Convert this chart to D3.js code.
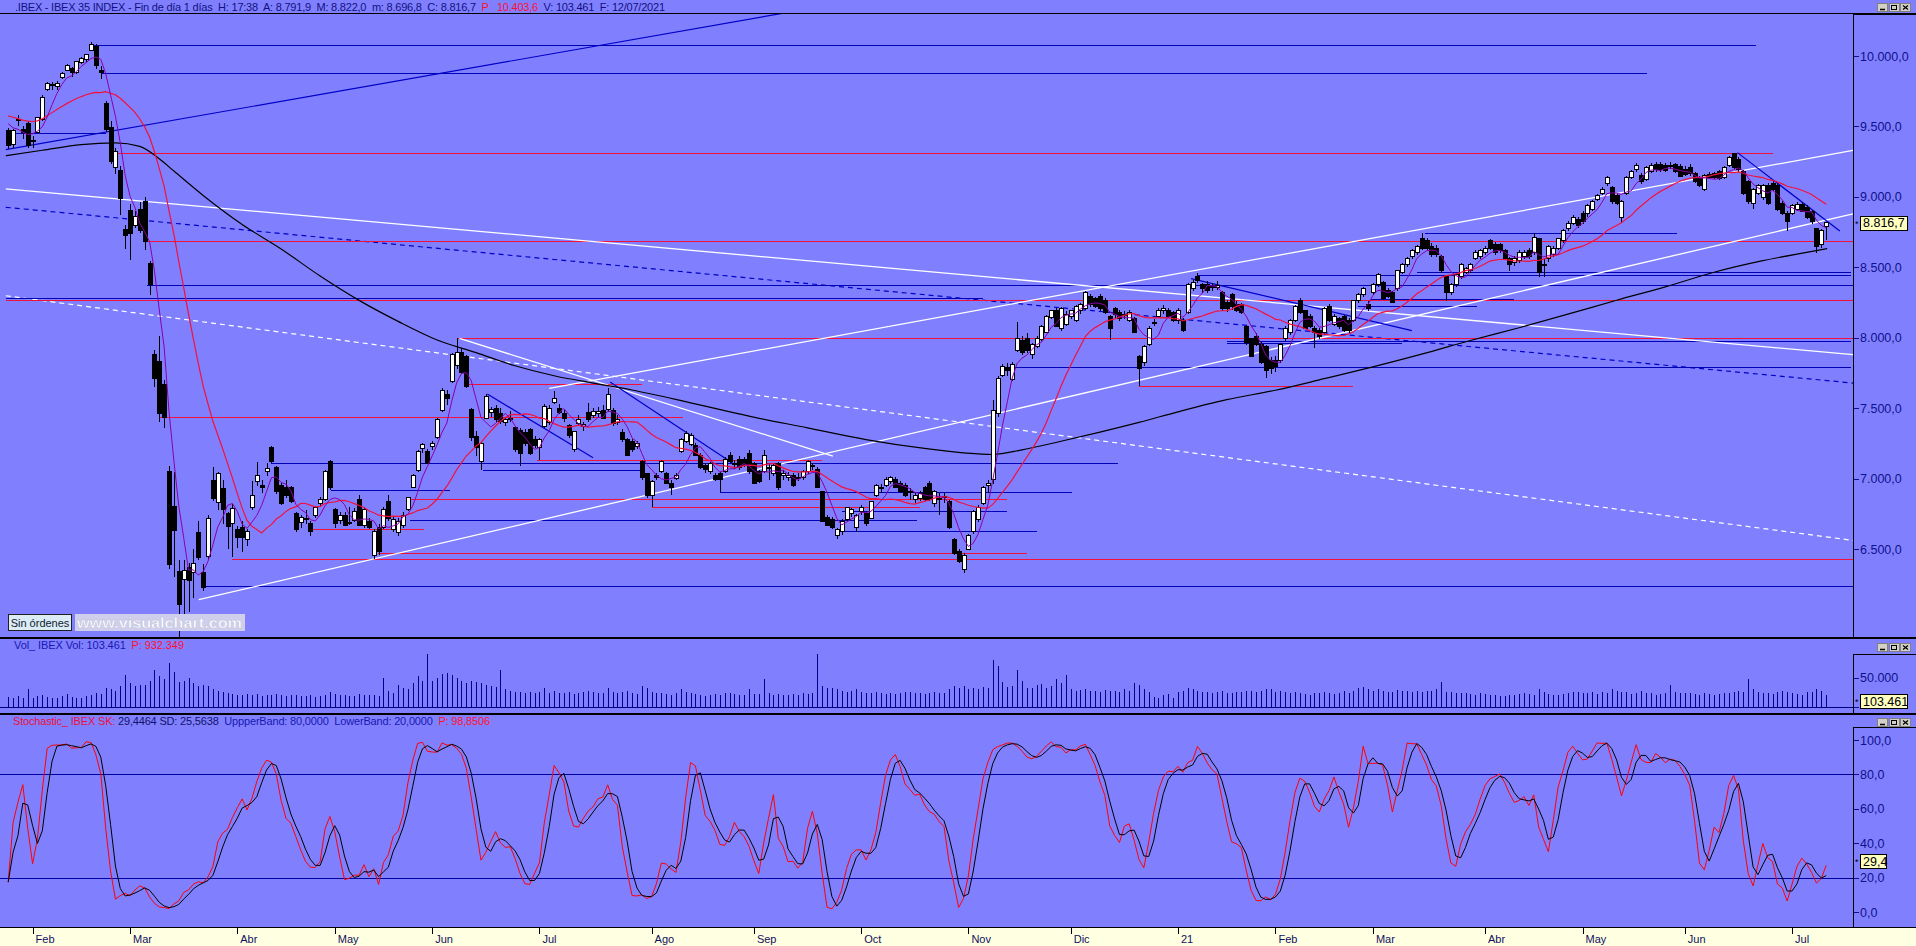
<!DOCTYPE html>
<html><head><meta charset="utf-8">
<script src="https://cdn.jsdelivr.net/npm/d3@7"></script>
<style>
html,body{margin:0;padding:0;background:#8080ff;overflow:hidden}
svg{display:block}
text{font-family:"Liberation Sans",Arial,sans-serif}
</style></head><body>
<svg id="c" width="1916" height="946"></svg>
<script>
// ---------------- DATA (IBEX 35 daily, [open, high, low, close]) ----------------
const jan20=[[9470,9490,9340,9366],[9370,9485,9350,9470],[9540,9580,9500,9550],[9480,9500,9410,9455],[9520,9540,9350,9367]];
const feb20=[[9390,9430,9350,9400],[9460,9570,9450,9560],[9550,9720,9540,9705],[9765,9815,9750,9805],[9790,9815,9760,9800],[9785,9820,9760,9803],[9850,9885,9835,9875],[9900,9945,9890,9935],[9910,9920,9850,9880],[9880,9965,9870,9958],[9955,9990,9945,9983],[9975,10015,9960,10010],[10040,10100,10035,10080],[10070,10083,9910,9930],[9900,9930,9840,9880],[9660,9680,9460,9480],[9490,9540,9230,9250],[9210,9350,9160,9320],[9190,9220,8870,8985],[8770,8800,8630,8723]];
const mar20=[[8905,8950,8550,8740],[8800,8900,8780,8857],[8910,8960,8740,8760],[8970,9000,8620,8683],[8530,8545,8300,8376],[7880,7910,7650,7708],[7830,8010,7400,7461],[7670,7700,7360,7436],[7050,7090,6360,6390],[6800,7050,6300,6630],[6340,6420,5814,6107],[6280,6420,6030,6349],[6370,6400,6050,6274],[6330,6500,6150,6400],[6620,6700,6420,6443],[6330,6390,6200,6230],[6450,6740,6420,6717],[6985,7080,6840,6860],[6830,7050,6780,7035],[6930,6990,6680,6777],[6750,6760,6500,6659],[6680,6820,6440,6785]];
const apr20=[[6640,6660,6510,6583],[6650,6700,6480,6580],[6570,6640,6520,6626],[6795,6980,6780,6880],[6980,7120,6950,7021],[6950,6990,6900,6940],[7050,7110,7020,7070],[7220,7230,7110,7120],[7078,7090,6890,6908],[6950,6970,6810,6823],[6936,6990,6860,6880],[6936,6950,6830,6840],[6753,6760,6620,6640],[6690,6740,6650,6724],[6720,6780,6680,6710],[6682,6700,6590,6626],[6739,6800,6720,6795],[6820,6870,6800,6852],[6850,7060,6840,7049],[7120,7130,6920,6936]];
const may20=[[6781,6790,6650,6682],[6700,6760,6680,6739],[6739,6760,6660,6668],[6690,6800,6670,6682],[6700,6790,6690,6767],[6852,6880,6660,6668],[6668,6800,6650,6781],[6696,6720,6640,6654],[6456,6640,6428,6626],[6654,6680,6460,6484],[6654,6800,6640,6781],[6840,6880,6700,6720],[6640,6730,6620,6710],[6620,6720,6590,6696],[6670,6760,6650,6739],[6780,6870,6770,6866],[6940,7030,6930,7021],[7060,7200,7050,7190],[7210,7250,7180,7240],[7190,7210,7100,7110]];
const jun20=[[7230,7270,7200,7247],[7290,7430,7280,7416],[7480,7640,7470,7628],[7600,7630,7520,7572],[7690,7890,7680,7880],[7800,7996,7780,7897],[7897,7930,7740,7756],[7870,7880,7640,7657],[7487,7500,7270,7289],[7300,7340,7160,7220],[7120,7260,7060,7247],[7430,7600,7420,7586],[7470,7510,7440,7490],[7500,7520,7400,7416],[7460,7500,7390,7402],[7400,7440,7370,7416],[7420,7480,7400,7430],[7360,7370,7190,7205],[7340,7360,7090,7176],[7330,7350,7230,7247],[7350,7360,7170,7176],[7275,7300,7220,7233]];
const jul20=[[7220,7290,7134,7275],[7370,7530,7360,7515],[7400,7520,7380,7500],[7540,7620,7530,7572],[7500,7530,7460,7470],[7460,7490,7400,7430],[7374,7390,7290,7303],[7205,7340,7190,7332],[7390,7450,7380,7420],[7370,7400,7340,7385],[7470,7540,7400,7416],[7450,7500,7430,7473],[7460,7510,7440,7473],[7480,7520,7420,7430],[7490,7640,7470,7600],[7480,7500,7370,7390],[7400,7450,7380,7416],[7330,7350,7260,7275],[7275,7290,7160,7162],[7260,7280,7190,7205],[7230,7270,7210,7247],[7120,7130,6990,7007],[7035,7040,6860,6880]];
const aug20=[[6880,6990,6795,6979],[7021,7040,6990,7007],[7049,7130,7040,7120],[7035,7050,6960,6965],[6965,6990,6880,6936],[7000,7040,6990,7021],[7190,7290,7180,7275],[7260,7340,7250,7318],[7245,7320,7230,7303],[7233,7250,7160,7162],[7162,7180,7070,7078],[7092,7110,7040,7063],[7049,7120,7030,7106],[7021,7040,6980,6993],[7035,7050,6908,6993],[7049,7150,7040,7134],[7162,7190,7110,7120],[7100,7130,7070,7106],[7134,7160,7060,7078],[7134,7150,7080,7092],[7176,7205,7030,7049]];
const sep20=[[7106,7120,6960,6965],[7049,7060,6970,6979],[7049,7200,7040,7162],[7070,7100,6990,7078],[7035,7100,7020,7092],[7106,7120,6920,6936],[7020,7060,6990,7035],[7010,7050,6980,7021],[7021,7040,6940,6950],[7000,7040,6980,7007],[7007,7060,6990,7049],[7049,7130,7030,7120],[7090,7110,7060,7092],[7063,7080,6930,6936],[6908,6910,6690,6696],[6724,6740,6660,6668],[6710,6730,6640,6654],[6597,6650,6569,6640],[6626,6710,6600,6696],[6710,6800,6700,6795],[6750,6790,6730,6781],[6654,6750,6620,6739]];
const oct20=[[6767,6810,6740,6795],[6753,6770,6660,6682],[6720,6840,6710,6837],[6880,6960,6870,6950],[6930,6960,6900,6936],[6950,7010,6940,6993],[6979,7020,6960,7007],[6993,7010,6930,6936],[6965,6980,6900,6908],[6950,6970,6870,6880],[6900,6930,6850,6908],[6852,6900,6830,6880],[6860,6910,6840,6894],[6936,6950,6840,6852],[6965,6980,6840,6852],[6823,6920,6800,6908],[6860,6900,6739,6852],[6870,6900,6830,6866],[6837,6850,6640,6654],[6569,6580,6460,6470],[6484,6500,6400,6414],[6357,6470,6329,6456]];
const nov20=[[6500,6610,6490,6597],[6626,6780,6610,6767],[6710,6810,6690,6795],[6823,6950,6810,6936],[6950,6990,6900,6965],[6990,7560,6965,7480],[7460,7730,7440,7713],[7730,7810,7720,7798],[7790,7820,7730,7770],[7700,7830,7690,7812],[7911,8110,7900,7996],[7982,8010,7880,7897],[7996,8030,7890,7911],[7880,7960,7850,7953],[7940,8010,7930,7996],[7990,8090,7980,8080],[8038,8160,8030,8151],[8140,8200,8130,8193],[8193,8210,8080,8080],[8066,8220,8050,8207],[8094,8190,8080,8165]];
const dec20=[[8151,8200,8130,8193],[8123,8230,8110,8221],[8190,8250,8170,8235],[8207,8330,8200,8320],[8292,8310,8220,8235],[8278,8290,8210,8221],[8292,8310,8190,8207],[8264,8280,8170,8179],[8151,8160,7982,8066],[8207,8220,8140,8165],[8179,8200,8120,8137],[8160,8190,8130,8165],[8123,8200,8110,8179],[8137,8150,8030,8038],[7869,7880,7657,7784],[7826,7950,7800,7940],[7953,8080,7940,8066],[8100,8130,8080,8109],[8151,8210,8140,8193],[8190,8230,8170,8207],[8193,8210,8140,8151],[8179,8190,8110,8123]];
const jan21=[[8123,8210,8100,8193],[8123,8140,8040,8052],[8179,8390,8170,8377],[8348,8410,8330,8391],[8433,8460,8390,8405],[8377,8390,8320,8348],[8377,8400,8320,8334],[8360,8390,8330,8362],[8360,8400,8340,8370],[8320,8330,8190,8207],[8250,8270,8180,8207],[8306,8320,8200,8220],[8235,8260,8180,8193],[8235,8250,8170,8179],[8080,8090,7950,7967],[7996,8000,7860,7869],[8010,8030,7940,7953],[7953,7970,7810,7826],[7939,7950,7713,7770],[7841,7860,7740,7784]];
const feb21=[[7841,7870,7760,7798],[7841,7960,7820,7953],[7996,8080,7980,8066],[8038,8130,8020,8123],[8123,8230,8110,8221],[8264,8280,8170,8179],[8193,8200,8060,8066],[8151,8170,8070,8080],[8066,8080,7925,8038],[8052,8070,7990,8010],[8040,8220,8020,8207],[8221,8240,8110,8123],[8094,8170,8080,8151],[8137,8150,8060,8080],[8151,8160,8040,8052],[8123,8140,8030,8052],[8123,8270,8110,8264],[8264,8320,8250,8306],[8306,8360,8290,8348],[8235,8260,8190,8207]];
const mar21=[[8320,8390,8300,8377],[8377,8460,8360,8447],[8391,8400,8270,8278],[8334,8350,8280,8292],[8320,8330,8250,8250],[8348,8480,8330,8475],[8461,8530,8450,8518],[8518,8570,8500,8560],[8574,8630,8560,8617],[8602,8660,8590,8645],[8701,8744,8620,8631],[8687,8710,8620,8631],[8645,8670,8570,8588],[8631,8660,8570,8588],[8574,8590,8460,8475],[8433,8440,8264,8320],[8320,8390,8300,8377],[8377,8460,8360,8447],[8433,8530,8420,8518],[8461,8500,8450,8490],[8475,8530,8460,8518],[8560,8620,8550,8602],[8574,8630,8560,8617]];
const apr21=[[8602,8650,8590,8631],[8687,8700,8620,8631],[8659,8680,8590,8602],[8659,8670,8600,8617],[8617,8630,8550,8560],[8560,8570,8475,8518],[8532,8580,8510,8560],[8546,8620,8530,8602],[8574,8620,8560,8602],[8617,8640,8560,8574],[8602,8744,8590,8715],[8701,8710,8433,8461],[8518,8560,8433,8520],[8560,8660,8540,8645],[8588,8650,8570,8631],[8631,8710,8620,8701],[8687,8770,8670,8758],[8772,8830,8760,8814],[8814,8870,8800,8856],[8842,8860,8780,8800]];
const may21=[[8885,8900,8810,8828],[8885,8950,8860,8941],[8913,8980,8900,8969],[8984,9020,8970,9012],[9026,9070,9010,9054],[9096,9150,9080,9139],[9068,9080,8950,8969],[9012,9030,8940,8955],[8856,8980,8814,8969],[9026,9150,9010,9139],[9139,9190,9130,9181],[9195,9240,9180,9223],[9153,9170,9090,9111],[9125,9220,9110,9209],[9181,9240,9170,9223],[9229,9250,9180,9195],[9229,9250,9180,9192],[9223,9240,9180,9190],[9220,9250,9200,9223],[9229,9240,9170,9181],[9215,9230,9140,9145]];
const jun21=[[9195,9220,9150,9161],[9209,9230,9150,9167],[9167,9180,9100,9111],[9139,9150,9070,9082],[9054,9160,9040,9153],[9161,9180,9130,9139],[9167,9180,9130,9139],[9181,9190,9120,9133],[9139,9220,9130,9209],[9223,9290,9210,9280],[9308,9314,9200,9209],[9266,9280,9180,9195],[9181,9190,9010,9026],[9111,9120,8950,8969],[8955,9060,8913,9054],[9026,9090,9010,9082],[8998,9090,8980,9082],[9082,9100,8940,8955],[9096,9110,9040,9054],[9082,9100,8900,8913],[8955,8970,8870,8885],[8885,8900,8758,8828]];
const jul21=[[8885,8950,8870,8941],[8913,8960,8900,8947],[8947,8960,8890,8899],[8927,8940,8840,8856],[8899,8910,8810,8828],[8772,8780,8602,8645],[8659,8770,8640,8758],[8791.9,8822,8696.8,8816.7]];

// volume, thousands of contracts
const volJan20=[17,15,18,16,30];
const volFeb20=[16,18,20,17,15,16,19,22,17,15,16,18,20,24,22,33,30,28,36,54];
const volMar20=[40,36,38,37,44,62,52,48,75,60,42,44,50,40,36,38,35,30,28,25,24,22];
const volApr20=[21,20,22,20,22,18,20,21,22,20,19,21,20,18,19,20,17,19,21,26];
const volMay20=[22,21,20,19,18,22,20,21,20,19,50,28,24,37,32,30,40,52,45,92];
const volJun20=[44,50,56,58,54,49,45,40,44,42,40,38,36,34,63,30,27,26,25,24,26,24];
const volJul20=[26,32,24,27,23,24,25,22,24,26,28,25,24,23,33,26,24,25,27,23,22,35,32];
const volAug20=[25,24,23,22,21,24,30,25,24,22,20,19,21,22,20,23,24,22,21,20,30];
const volSep20=[22,22,48,24,21,22,21,20,22,21,23,22,24,91,36,33,32,30,28,26,27,30];
const volOct20=[26,24,23,25,24,22,23,22,24,25,26,24,23,22,24,25,23,24,30,36,33,35];
const volNov20=[30,32,31,34,33,80,70,42,34,35,63,45,32,33,37,39,33,36,48,40,55];
const volDec20=[30,28,29,31,27,28,26,29,27,28,26,30,28,40,38,30,26,17,16,20,22,15];
const volJan21=[25,27,32,30,28,26,25,24,26,27,23,24,25,26,28,27,26,28,30,31];
const volFeb21=[26,27,25,24,26,23,22,21,24,23,25,24,22,23,28,24,27,32,34,30];
const volMar21=[28,30,27,26,25,29,28,27,26,27,25,28,27,30,42,26,25,24,23,24,22,21,23];
const volApr21=[22,20,21,19,18,20,21,22,23,22,21,30,25,22,21,20,22,24,26,25];
const volMay21=[23,24,25,22,26,24,30,28,25,26,22,23,28,24,23,21,22,23,38,26,24];
const volJun21=[24,23,22,21,23,22,21,22,24,23,25,27,26,48,30,26,24,23,22,25,27,26];
const volJul21=[24,22,21,25,26,30,27,20];

// month labels and the bar index where each month starts
const monthTicks=[[5,"Feb"],[25,"Mar"],[47,"Abr"],[67,"May"],[87,"Jun"],[109,"Jul"],[132,"Ago"],[153,"Sep"],[175,"Oct"],[197,"Nov"],[218,"Dic"],[240,"21"],[260,"Feb"],[280,"Mar"],[303,"Abr"],[323,"May"],[344,"Jun"],[366,"Jul"]];
const priceTicks=[6500,7000,7500,8000,8500,9000,9500,10000];
const volTicks=[50];
const stochTicks=[0,20,40,60,80,100];
const stochBands=[80,20];

// moving-average values read off the picture where the window is not yet full
const redLead=[9575,9565,9555,9545,9538,9535,9540,9555,9575,9598,9620,9642,9662,9680,9698,9712,9725,9735,9742];
const purpleLead=[9520,9490,9480,9460];
// long black average: [bar index, value]
const blackPts=[[-0.5,9292],[7,9331],[15,9371],[22,9383],[27,9358],[31,9270],[34,9183],[40,9010],[48,8804],[56,8630],[64,8438],[72,8265],[80,8116],[88,7984],[96,7894],[104,7801],[112,7730],[120,7678],[128,7629],[140,7538],[152,7443],[164,7360],[176,7277],[188,7214],[196,7183],[202,7171],[208,7204],[216,7265],[224,7330],[232,7399],[240,7474],[250,7560],[260,7627],[270,7709],[280,7793],[290,7883],[300,7980],[310,8071],[320,8167],[330,8266],[340,8361],[350,8465],[360,8547],[367,8594],[373.2,8632]];

// horizontal levels: [price, from bar, to bar]
const blueLevels=[[10080,17,358.6],[9880,19,336.3],[9456,-0.5,20],[8375,28.5,378.5],[8447,244,378],[8467,289,378],[8744,290.7,342.4],[8282,-0.5,200],[8278,279.7,309],[8222,277,301.4],[7976,250,378],[7965,250,286],[7790,206,378],[7111,54,227.6],[7063,97.5,130],[6922,66.3,90.6],[6908,146,218.2],[6767,171,205],[6705,82.4,186.4],[6626,171,211],[6236,40,378.5]];
const redLevels=[[9309,22,362],[8688,28.5,378.5],[8268,-0.5,378.5],[7996,92,378.5],[7671,94.6,130],[7657,232,276],[7434,31,138.5],[7134,108.5,167],[6857,82.4,205],[6801,132,187],[6640,62.4,85.3],[6470,75.9,209],[6430,46,378.5]];
// trend lines: [bar1, price1, bar2, price2]
const whiteTrends=[[-0.5,9057,378.5,7880],[39.1,6140,378.5,8880],[111,7640,378.5,9330],[92.6,7996,169.2,7160]];
const blueTrends=[[-0.5,9335,160,10310],[98.3,7600,120,7148],[123.5,7685,148.8,7106],[242.7,8420,288,8050],[354.8,9314,375.8,8758]];
const whiteDashed=[[-0.5,8298,378.5,6561]];
const blueDashed=[[-0.5,8926,378.5,7678]];

// ---------------- BUILD ----------------
const bars=[].concat(jan20,feb20,mar20,apr20,may20,jun20,jul20,aug20,sep20,oct20,nov20,dec20,jan21,feb21,mar21,apr21,may21,jun21,jul21);
const vols=[].concat(volJan20,volFeb20,volMar20,volApr20,volMay20,volJun20,volJul20,volAug20,volSep20,volOct20,volNov20,volDec20,volJan21,volFeb21,volMar21,volApr21,volMay21,volJun21,volJul21);
const closes=bars.map(d=>d[3]);
function sma(n,lead){return closes.map((c,i)=> i<n-1 ? [i,lead[i]] : [i,d3.mean(closes.slice(i-n+1,i+1))]);}
const ma20=sma(20,redLead), ma5=sma(5,purpleLead);
const fastK=bars.map((b,i)=>{const w=bars.slice(Math.max(0,i-13),i+1);const hh=d3.max(w,d=>d[1]),ll=d3.min(w,d=>d[2]);return hh>ll?(b[3]-ll)/(hh-ll)*100:50;});
const sk=fastK.map((v,i)=>d3.mean(fastK.slice(Math.max(0,i-2),i+1)));
const sd=sk.map((v,i)=>d3.mean(sk.slice(Math.max(0,i-2),i+1)));

const loc=d3.formatLocale({decimal:",",thousands:".",grouping:[3],currency:["",""]});
const f1=loc.format(",.1f"), f0=loc.format(",.0f");

const W=1916,H=946,PR=1853;
const mainTop=14,mainBot=637,volTop=654,volBot=713,stTop=727,stBot=927;
const BG="#8080ff",NAVY="#10108c",BLUE="#0000b4",RED="#f2103c";

const svg=d3.select("#c");
svg.append("rect").attr("width",W).attr("height",H).attr("fill",BG);
svg.append("rect").attr("x",0).attr("y",stBot).attr("width",W).attr("height",H-stBot).attr("fill","#ffffe1");

const x=d3.scaleLinear().domain([0,373]).range([8.2,1826.2]);
const y=d3.scaleLinear().domain([6500,10000]).range([549,56]);
const yv=d3.scaleLinear().domain([0,90]).range([707,654]);
const ys=d3.scaleLinear().domain([0,100]).range([912,740]);

const defs=svg.append("defs");
[["cm",mainTop,mainBot],["cv",volTop,volBot],["cs",stTop,stBot]].forEach(([id,t,b])=>{
  defs.append("clipPath").attr("id",id).append("rect").attr("x",0).attr("y",t).attr("width",PR).attr("height",b-t);
});

// ---- main panel ----
const g=svg.append("g").attr("clip-path","url(#cm)");
const hl=(arr,col)=>g.append("g").selectAll("line").data(arr).join("line")
  .attr("x1",d=>x(d[1])).attr("x2",d=>x(d[2]))
  .attr("y1",d=>Math.round(y(d[0]))+0.5).attr("y2",d=>Math.round(y(d[0]))+0.5)
  .attr("stroke",col).attr("stroke-width",1).attr("shape-rendering","crispEdges");
const tl=(arr,col,dash,w)=>g.append("g").selectAll("line").data(arr).join("line")
  .attr("x1",d=>x(d[0])).attr("y1",d=>y(d[1])).attr("x2",d=>x(d[2])).attr("y2",d=>y(d[3]))
  .attr("stroke",col).attr("stroke-width",w).attr("stroke-dasharray",dash);
tl(whiteDashed,"#ffffff","5,4",1.2);
tl(blueDashed,"#0000c8","5,4",1.2);
hl(blueLevels,BLUE);
hl(redLevels,RED);
tl(whiteTrends,"#ffffff",null,1.3);
tl(blueTrends,"#0000c8",null,1.2);

// long average (black)
g.append("path").datum(blackPts).attr("fill","none").attr("stroke","#000").attr("stroke-width",1.2)
  .attr("d",d3.line().curve(d3.curveMonotoneX).x(d=>x(d[0])).y(d=>y(d[1])));

// candles
const cg=g.append("g").attr("shape-rendering","crispEdges");
cg.selectAll("line").data(bars).join("line")
  .attr("x1",(d,i)=>Math.round(x(i))+0.5).attr("x2",(d,i)=>Math.round(x(i))+0.5)
  .attr("y1",d=>y(d[1])).attr("y2",d=>y(d[2])).attr("stroke","#000").attr("stroke-width",1);
cg.selectAll("rect").data(bars).join("rect")
  .attr("x",(d,i)=>Math.round(x(i))-1.5).attr("width",4)
  .attr("y",d=>y(Math.max(d[0],d[3]))).attr("height",d=>Math.max(1,Math.abs(y(d[0])-y(d[3]))))
  .attr("fill",d=>d[3]>=d[0]?"#ffffff":"#000000").attr("stroke","#000").attr("stroke-width",1);

// short & medium averages
const ln=d3.line().x(d=>x(d[0])).y(d=>y(d[1]));
g.append("path").datum(ma20).attr("fill","none").attr("stroke",RED).attr("stroke-width",1.2).attr("d",ln);
g.append("path").datum(ma5).attr("fill","none").attr("stroke","#8a00a8").attr("stroke-width",1).attr("d",ln);

// ---- volume panel ----
const gv=svg.append("g").attr("clip-path","url(#cv)");
gv.append("line").attr("x1",0).attr("x2",PR).attr("y1",yv(0)+0.5).attr("y2",yv(0)+0.5).attr("stroke","#000080").attr("shape-rendering","crispEdges");
gv.selectAll("line.v").data(vols).join("line").attr("class","v")
  .attr("x1",(d,i)=>Math.round(x(i))+0.5).attr("x2",(d,i)=>Math.round(x(i))+0.5)
  .attr("y1",yv(0)).attr("y2",d=>yv(d)).attr("stroke","#00008c").attr("stroke-width",1).attr("shape-rendering","crispEdges");

// ---- stochastic panel ----
const gs=svg.append("g").attr("clip-path","url(#cs)");
gs.selectAll("line.b").data(stochBands).join("line").attr("class","b")
  .attr("x1",0).attr("x2",PR).attr("y1",d=>Math.round(ys(d))+0.5).attr("y2",d=>Math.round(ys(d))+0.5)
  .attr("stroke","#0000a0").attr("shape-rendering","crispEdges");
const sl=d3.line().x((d,i)=>x(i)).y(d=>ys(d));
gs.append("path").datum(sk).attr("fill","none").attr("stroke","#ff0000").attr("stroke-width",1).attr("d",sl);
gs.append("path").datum(sd).attr("fill","none").attr("stroke","#000").attr("stroke-width",1).attr("d",sl);

// ---- frames ----
const frame=svg.append("g").attr("stroke","#000").attr("shape-rendering","crispEdges");
frame.append("line").attr("x1",0).attr("x2",W).attr("y1",13.5).attr("y2",13.5);
frame.append("line").attr("x1",0).attr("x2",W).attr("y1",637.5).attr("y2",637.5).attr("stroke-width",2);
frame.append("line").attr("x1",0).attr("x2",W).attr("y1",713.5).attr("y2",713.5).attr("stroke-width",2);
frame.append("line").attr("x1",0).attr("x2",W).attr("y1",927.5).attr("y2",927.5);
[[mainTop,mainBot],[volTop,volBot],[stTop,stBot]].forEach(([t,b])=>{
  frame.append("line").attr("x1",PR+0.5).attr("x2",PR+0.5).attr("y1",t).attr("y2",b);
  frame.append("line").attr("x1",PR).attr("x2",W).attr("y1",t+0.5).attr("y2",t+0.5);
});

// ---- right axes ----
function rAxis(ticks,scale,fmt){
  const a=svg.append("g");
  a.selectAll("line").data(ticks).join("line").attr("x1",PR+1).attr("x2",PR+6)
    .attr("y1",d=>Math.round(scale(d))+0.5).attr("y2",d=>Math.round(scale(d))+0.5)
    .attr("stroke","#10108c").attr("shape-rendering","crispEdges");
  a.selectAll("text").data(ticks).join("text").attr("x",PR+7).attr("y",d=>scale(d)+4.5)
    .attr("font-size",12.5).attr("fill",NAVY).text(fmt);
}
rAxis(priceTicks,y,f1);
rAxis(volTicks,yv,d=>f0(d*1000));
rAxis(stochTicks,ys,f1);
// zero tick of the volume axis (its label sits hidden under the value box)
svg.append("line").attr("x1",PR+1).attr("x2",PR+6).attr("y1",Math.round(yv(0))+0.5).attr("y2",Math.round(yv(0))+0.5)
  .attr("stroke","#10108c").attr("shape-rendering","crispEdges");

// current value boxes
function box(cy,txt,w){
  const b=svg.append("g");
  b.append("text").attr("x",PR+2).attr("y",cy+4).attr("font-size",9).attr("fill","#000").text("*");
  b.append("rect").attr("x",PR+7.5).attr("y",Math.round(cy-7)+0.5).attr("width",w).attr("height",14)
    .attr("fill","#ffffc0").attr("stroke","#000").attr("shape-rendering","crispEdges");
  b.append("text").attr("x",PR+10).attr("y",cy+4.5).attr("font-size",12.5).attr("fill","#000").text(txt);
}
box(y(closes[closes.length-1]),f1(closes[closes.length-1]),47);
box(701,"103.461",47);
box(ys(29.4464),f1(29.4464),26);

// window buttons
[3,643,718].forEach(t=>{
  const bg=svg.append("g");
  [0,1,2].forEach(k=>{
    const bx=1877+k*11.5;
    bg.append("rect").attr("x",bx+0.5).attr("y",t+0.5).attr("width",10).attr("height",8).attr("fill","#d4d0c8").attr("stroke","#808080").attr("shape-rendering","crispEdges");
  });
  bg.append("line").attr("x1",1880).attr("x2",1885).attr("y1",t+6.5).attr("y2",t+6.5).attr("stroke","#000").attr("stroke-width",1.5);
  bg.append("rect").attr("x",1891.5).attr("y",t+2.5).attr("width",5).attr("height",4).attr("fill","none").attr("stroke","#000");
  bg.append("path").attr("d",`M${1903},${t+2.5}L${1908},${t+6.5}M${1908},${t+2.5}L${1903},${t+6.5}`).attr("stroke","#000").attr("stroke-width",1.3);
});

// ---- date axis ----
const da=svg.append("g");
da.selectAll("line").data(monthTicks).join("line")
  .attr("x1",d=>Math.round(x(d[0]))+0.5).attr("x2",d=>Math.round(x(d[0]))+0.5).attr("y1",928).attr("y2",934)
  .attr("stroke","#000").attr("shape-rendering","crispEdges");
da.selectAll("text").data(monthTicks).join("text")
  .attr("x",d=>x(d[0])+3).attr("y",943).attr("font-size",11).attr("fill","#101060").text(d=>d[1]);

// ---- texts ----
function label(xp,yp,parts,len){
  const t=svg.append("text").attr("x",xp).attr("y",yp).attr("font-size",11).style("white-space","pre");
  if(len) t.attr("textLength",len).attr("lengthAdjust","spacing");
  parts.forEach(p=>t.append("tspan").attr("fill",p[1]).text(p[0]));
}
label(15,10.5,[[".IBEX - IBEX 35 INDEX - Fin de día 1 días  H: 17:38  A: 8.791,9  M: 8.822,0  m: 8.696,8  C: 8.816,7  ","#101080"],["P   10.403,6","#ff1030"],["  V: 103.461  F: 12/07/2021","#101080"]],650);
label(14,649,[["Vol_ IBEX Vol: 103.461  ","#1818b0"],["P: 932.349","#ff1030"]],170);
label(13,725,[["Stochastic_ IBEX SK: ","#e8103c"],["29,4464 SD: 25,5638  ","#10106a"],["UppperBand: 80,0000  LowerBand: 20,0000  ","#1818b0"],["P: 98,8506","#ff1030"]],477);

// Sin órdenes + watermark
svg.append("rect").attr("x",8.5).attr("y",614.5).attr("width",63).attr("height",16).attr("fill","#dcecf4").attr("stroke","#202020").attr("shape-rendering","crispEdges");
svg.append("text").attr("x",40).attr("y",626.5).attr("text-anchor","middle").attr("font-size",11).attr("fill","#102030").text("Sin órdenes");
svg.append("rect").attr("x",75).attr("y",614).attr("width",170).attr("height",17).attr("fill","#cfcfec");
svg.append("text").attr("x",77).attr("y",628).attr("font-family","DejaVu Sans").attr("font-weight","bold").attr("font-size",14.5)
  .attr("textLength",165).attr("lengthAdjust","spacingAndGlyphs").attr("fill","#ffffff").attr("stroke","#b8b8d8").attr("stroke-width",0.4).text("www.visualchart.com");
</script></body></html>
